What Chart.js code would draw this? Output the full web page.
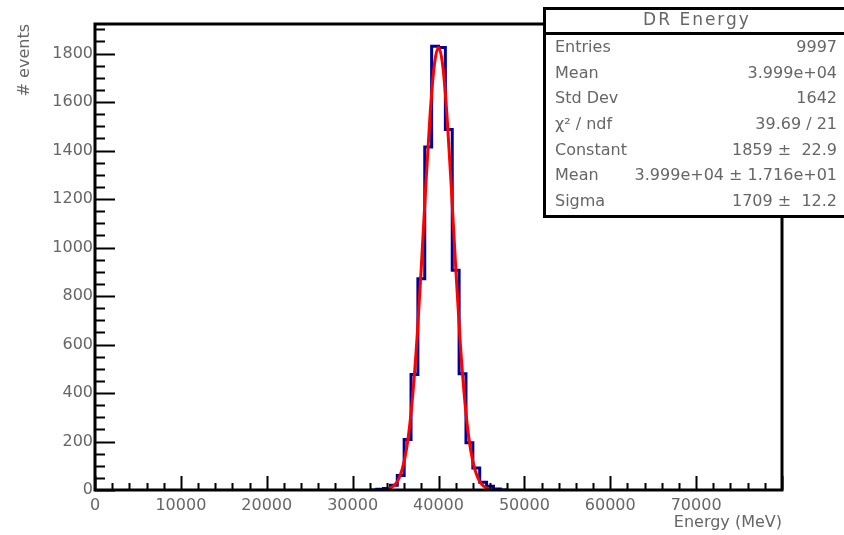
<!DOCTYPE html>
<html>
<head>
<meta charset="utf-8">
<script src="https://cdn.jsdelivr.net/npm/chart.js@4.4.1/dist/chart.umd.min.js"></script>
<style>
  html, body { margin: 0; padding: 0; background: #ffffff; }
  #wrap { width: 844px; height: 535px; }
</style>
</head>
<body>
<div id="wrap"><canvas id="c" width="844" height="535"></canvas></div>
<script>
// ---- data ----
const binLow = [32000, 32800, 33600, 34400, 35200, 36000, 36800, 37600, 38400, 39200, 40000, 40800, 41600, 42400, 43200, 44000, 44800, 45600, 46400, 47200];
const counts = [0, 3, 6, 20, 60, 208, 476, 871, 1415, 1830, 1825, 1487, 906, 479, 195, 91, 32, 15, 4, 0];

const fitX = [34000, 34500, 35000, 35500, 36000, 36500, 37000, 37500, 38000, 38500, 39000, 39500, 40000, 40500, 41000, 41500, 42000, 42500, 43000, 43500, 44000, 44500, 45000, 45500, 46000];
const fitY = [4, 10, 25, 57, 118, 224, 391, 626, 920, 1242, 1538, 1749, 1825, 1749, 1538, 1242, 920, 626, 391, 224, 118, 57, 25, 10, 4];

const xTickValues = [0, 10000, 20000, 30000, 40000, 50000, 60000, 70000];
const yTickValues = [0, 200, 400, 600, 800, 1000, 1200, 1400, 1600, 1800];

const statsTitle = 'DR Energy';
const statLabels = ['Entries', 'Mean', 'Std Dev', 'χ² / ndf', 'Constant', 'Mean', 'Sigma'];
const statValues = ['9997', '3.999e+04', '1642', '39.69 / 21', '1859 ±  22.9', '3.999e+04 ± 1.716e+01', '1709 ±  12.2'];

const xTitle = 'Energy (MeV)';
const yTitle = '# events';

// ---- styling ----
const FONT = '"DejaVu Sans", "Liberation Sans", Arial, sans-serif';
const TXT = '#666666';

const histPoints = binLow.map((x, i) => ({ x: x, y: counts[i] }));
histPoints.push({ x: binLow[binLow.length - 1] + 800, y: 0 });
const fitPoints = fitX.map((x, i) => ({ x: x, y: fitY[i] }));

const rootPlugin = {
  id: 'rootStyle',
  afterDatasetsDraw(chart) {
    const ctx = chart.ctx;
    const { left, right, top, bottom } = chart.chartArea;
    const xs = chart.scales.x, ys = chart.scales.y;
    ctx.save();
    ctx.strokeStyle = '#000';
    ctx.lineWidth = 2;
    ctx.beginPath();
    for (let v = xs.min; v <= xs.max; v += 2000) {
      const px = Math.round(xs.getPixelForValue(v)) + 0.5;
      const len = (v % 10000 === 0) ? 14 : 7;
      ctx.moveTo(px, bottom);
      ctx.lineTo(px, bottom - len);
    }
    for (let v = ys.min; v <= ys.max; v += 50) {
      const py = Math.round(ys.getPixelForValue(v)) + 0.5;
      const len = (v % 200 === 0) ? 20 : 10;
      ctx.moveTo(left, py);
      ctx.lineTo(left + len, py);
    }
    ctx.stroke();
    ctx.lineWidth = 3;
    ctx.strokeRect(left, top, right - left, bottom - top);
    ctx.restore();
  },
  afterDraw(chart) {
    const ctx = chart.ctx;
    ctx.save();
    const bx = 544.5, by = 8.5, bw = 310, bh = 208;
    ctx.fillStyle = '#fff';
    ctx.fillRect(bx, by, bw, bh);
    ctx.strokeStyle = '#000';
    ctx.lineWidth = 3;
    ctx.strokeRect(bx, by, bw, bh);
    ctx.beginPath();
    ctx.moveTo(bx, 33.5);
    ctx.lineTo(bx + bw, 33.5);
    ctx.stroke();
    ctx.fillStyle = TXT;
    ctx.textBaseline = 'middle';
    ctx.font = '17px ' + FONT;
    ctx.textAlign = 'center';
    try { ctx.letterSpacing = '2px'; } catch (e) {}
    ctx.fillText(statsTitle, 697, 21);
    try { ctx.letterSpacing = '0px'; } catch (e) {}
    ctx.font = '16px ' + FONT;
    for (let i = 0; i < statLabels.length; i++) {
      const y = 48 + i * 25.6;
      ctx.textAlign = 'left';
      ctx.fillText(statLabels[i], 555, y);
      ctx.textAlign = 'right';
      ctx.fillText(statValues[i], 837, y);
    }
    ctx.restore();
  }
};

new Chart(document.getElementById('c'), {
  type: 'line',
  data: {
    datasets: [
      {
        label: 'fit',
        data: fitPoints,
        borderColor: '#ff0000',
        borderWidth: 3,
        pointRadius: 0,
        cubicInterpolationMode: 'monotone',
        fill: false,
        order: 0
      },
      {
        label: 'hist',
        data: histPoints,
        borderColor: '#000099',
        borderWidth: 3,
        pointRadius: 0,
        stepped: 'before',
        fill: false,
        order: 1
      }
    ]
  },
  options: {
    responsive: false,
    animation: false,
    devicePixelRatio: 1,
    layout: { padding: { left: 0, right: 62, top: 24, bottom: 0 } },
    plugins: { legend: { display: false }, tooltip: { enabled: false } },
    scales: {
      x: {
        type: 'linear',
        min: 0,
        max: 80000,
        afterBuildTicks(scale) { scale.ticks = xTickValues.map(v => ({ value: v })); },
        afterFit(scale) { scale.height = 45; },
        ticks: {
          autoSkip: false,
          maxRotation: 0,
          color: TXT,
          font: { family: FONT, size: 16 },
          padding: 6,
          callback: v => String(v)
        },
        grid: { display: false, drawTicks: false },
        border: { display: false },
        title: {
          display: true,
          text: xTitle,
          align: 'end',
          color: TXT,
          font: { family: FONT, size: 16 },
          padding: { top: 0, bottom: 3 }
        }
      },
      y: {
        type: 'linear',
        min: 0,
        max: 1922,
        afterBuildTicks(scale) { scale.ticks = yTickValues.map(v => ({ value: v })); },
        afterFit(scale) { scale.width = 95; },
        ticks: {
          autoSkip: false,
          color: TXT,
          font: { family: FONT, size: 16 },
          padding: 2,
          callback: v => String(v)
        },
        grid: { display: false, drawTicks: false },
        border: { display: false },
        title: {
          display: true,
          text: yTitle,
          align: 'end',
          color: TXT,
          font: { family: FONT, size: 16 },
          padding: { top: 15, bottom: 0 }
        }
      }
    }
  },
  plugins: [rootPlugin]
});
</script>
</body>
</html>
